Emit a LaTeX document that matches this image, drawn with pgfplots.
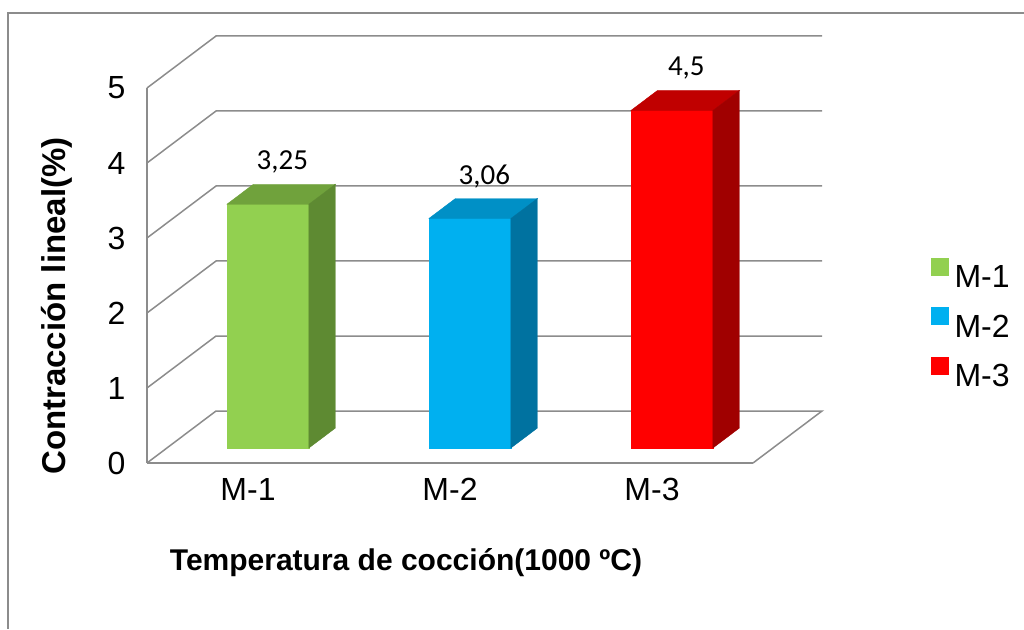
\documentclass[border=0pt]{standalone}
\usepackage{pgfplots}
\usepackage{pgfplotstable}
\pgfplotsset{compat=1.18}
\usepackage{fontspec}
\setmainfont{Liberation Sans}
\newfontfamily\carlito{Carlito}
\definecolor{gridc}{HTML}{8C8C8C}
\definecolor{aF}{HTML}{92D050}\definecolor{aT}{HTML}{70A23C}\definecolor{aS}{HTML}{5E8A32}
\definecolor{bF}{HTML}{00B0F0}\definecolor{bT}{HTML}{0090C6}\definecolor{bS}{HTML}{0072A0}
\definecolor{cF}{HTML}{FF0000}\definecolor{cT}{HTML}{C00000}\definecolor{cS}{HTML}{A00000}

\pgfplotstableread{
x v
0 3.25
1 3.06
2 4.5
}\datatable

% 3D bar: #1 index, #2 value, #3 front, #4 top, #5 side
\newcommand{\threedbar}[5]{%
 \pgfmathsetmacro{\xl}{#1-0.203+0.0984}%
 \pgfmathsetmacro{\xr}{#1+0.203+0.0984}%
 \pgfmathsetmacro{\xlb}{\xl+0.1315}%
 \pgfmathsetmacro{\xrb}{\xr+0.1315}%
 \pgfmathsetmacro{\yt}{#2+0.1997}%
 \pgfmathsetmacro{\ytb}{#2+0.4666}%
 \edef\doplots{%
  \noexpand\addplot[fill=#3, draw=#3, line width=0.4pt] coordinates {(\xl,0.1997) (\xr,0.1997) (\xr,\yt) (\xl,\yt)} -- cycle;
  \noexpand\addplot[forget plot, fill=#4, draw=#4, line width=0.4pt] coordinates {(\xl,\yt) (\xr,\yt) (\xrb,\ytb) (\xlb,\ytb)} -- cycle;
  \noexpand\addplot[forget plot, fill=#5, draw=#5, line width=0.4pt] coordinates {(\xr,0.1997) (\xrb,0.4666) (\xrb,\ytb) (\xr,\yt)} -- cycle;
 }\doplots}

\begin{document}
\begin{tikzpicture}
\begin{axis}[
  at={(147pt,166pt)}, anchor=south west,
  x=202pt, y=75pt,
  xmin=-0.5, xmax=2.5, ymin=0, ymax=5,
  clip=false,
  axis lines*=left,
  axis line style={gridc, line width=1.5pt, -},
  xtick={0,1,2}, xticklabels={M-1,M-2,M-3},
  minor xtick={-0.5,0.5,1.5,2.5},
  ytick={0,1,2,3,4,5},
  tick align=outside,
  major tick length=0pt,
  minor tick length=7pt,
  minor tick style={gridc, line width=1.5pt},
  ytick style={draw=none},
  xtick style={draw=none},
  /pgf/number format/assume math mode=true,
  tick label style={font=\fontsize{32}{38}\selectfont},
  yticklabel style={xshift=-18pt},
  xticklabel style={yshift=-12pt},
  xlabel={\textbf{Temperatura de cocción(1000 ºC)}},
  ylabel={\textbf{Contracción lineal(\%)}},
  xlabel style={font=\fontsize{30}{36}\selectfont, at={(axis description cs:0.4274,-0.2667)}, anchor=center},
  ylabel style={font=\fontsize{33}{38}\selectfont, at={(axis description cs:-0.1485,0.4187)}, anchor=center, rotate=0},
  legend style={at={(axis cs:3.381,1.853)}, anchor=west, draw=none, fill=none,
     font=\fontsize{32}{38}\selectfont, row sep=16pt, column sep=4pt, inner sep=0pt,
     cells={anchor=west}},
  legend image code/.code={\fill[#1] (0pt,2pt) rectangle (17pt,19pt);},
]
% back wall / floor grid
\addplot[forget plot, gridc, line width=1.5pt] coordinates {(-0.5,0) (-0.1584,0.6933) (2.8416,0.6933) (2.5,0)};
\addplot[forget plot, gridc, line width=1.5pt] coordinates {(-0.5,1) (-0.1584,1.6933) (2.8416,1.6933)};
\addplot[forget plot, gridc, line width=1.5pt] coordinates {(-0.5,2) (-0.1584,2.6933) (2.8416,2.6933)};
\addplot[forget plot, gridc, line width=1.5pt] coordinates {(-0.5,3) (-0.1584,3.6933) (2.8416,3.6933)};
\addplot[forget plot, gridc, line width=1.5pt] coordinates {(-0.5,4) (-0.1584,4.6933) (2.8416,4.6933)};
\addplot[forget plot, gridc, line width=1.5pt] coordinates {(-0.5,5) (-0.1584,5.6933) (2.8416,5.6933)};
% bars
\threedbar{0}{3.25}{aF}{aT}{aS}
\threedbar{1}{3.06}{bF}{bT}{bS}
\threedbar{2}{4.5}{cF}{cT}{cS}
% data labels
\addplot[forget plot, draw=none, mark=none, nodes near coords,
  point meta=\thisrow{v},
  every node near coord/.append style={font=\carlito\fontsize{29}{34}\selectfont, anchor=center, yshift=22pt,
     /pgf/number format/use comma, /pgf/number format/assume math mode=true}]
  table[x expr=\thisrow{x}+0.17, y expr=\thisrow{v}+0.4666]{\datatable};
\legend{M-1,M-2,M-3}
\end{axis}
\draw[gridc, line width=1.5pt] (1024pt,616pt) -- (8pt,616pt) -- (8pt,0pt);
\pgfresetboundingbox
\path (0pt,0pt) rectangle (1024pt,629pt);
\end{tikzpicture}
\end{document}
